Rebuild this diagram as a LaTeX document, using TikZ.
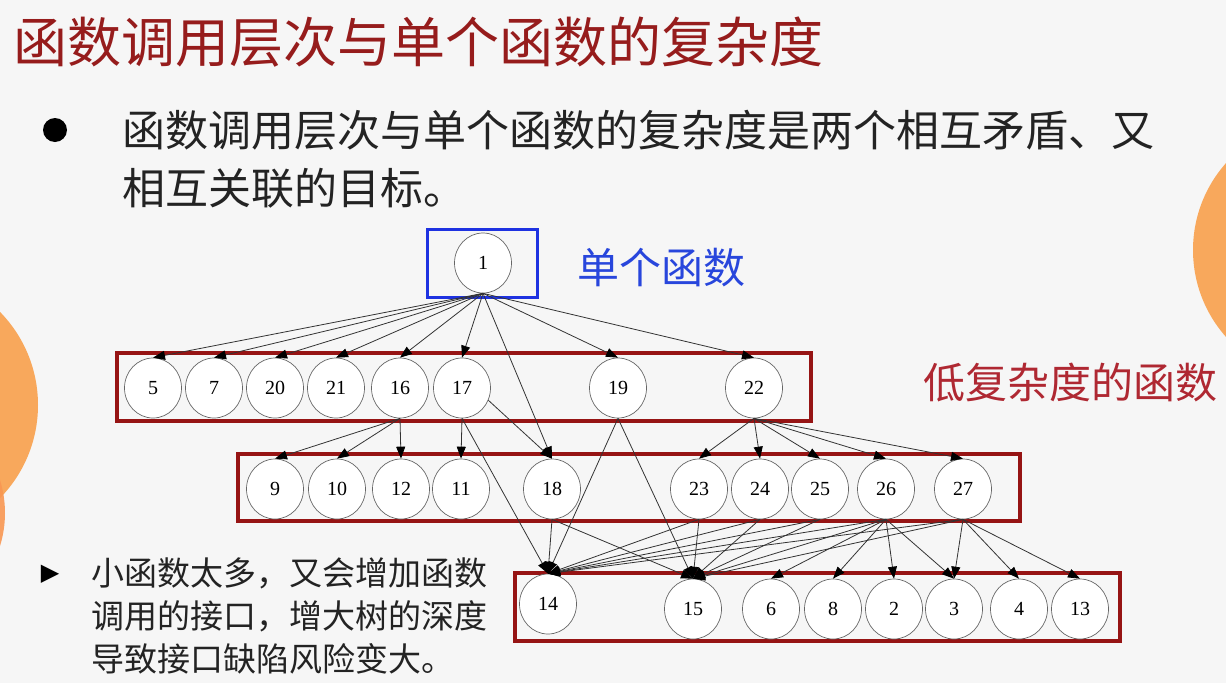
\documentclass[tikz,border=0pt]{standalone}
\usepackage{fontspec}
\setmainfont{Liberation Serif}
\newfontfamily\cjk{Noto Sans CJK SC}
\newfontfamily\symb{DejaVu Sans}
\usepackage{xcolor}
\usetikzlibrary{shapes, arrows.meta, positioning}

\definecolor{bgGray}{RGB}{246,246,246}
\definecolor{titleRed}{RGB}{150,28,28}
\definecolor{boxRed}{RGB}{150,20,20}
\definecolor{labelRed}{RGB}{175,40,50}
\definecolor{boxBlue}{RGB}{30,50,225}
\definecolor{labelBlue}{RGB}{40,70,220}
\definecolor{blobOrange}{RGB}{248,168,92}
\definecolor{textGray}{RGB}{35,35,35}

\tikzset{
  fn/.style={ellipse, draw=black!60, fill=white, line width=0.7pt,
    minimum width=57pt, minimum height=60pt, inner sep=0pt,
    font=\fontsize{20}{22}\selectfont},
  call/.style={draw=black!80, line width=0.8pt,
    -{Triangle[length=12pt,width=9pt,color=black]}},
  calls/.style={every edge/.style={call}},
  group/.style={draw=boxRed, line width=3.5pt},
}

\begin{document}
\begin{tikzpicture}[x=1pt, y=-1pt]
  % slide background, fixes the page size
  \fill[bgGray] (0,0) rectangle (1226,683);
  \useasboundingbox (0,0) rectangle (1226,683);

  % orange blobs cut by the page edges
  \begin{scope}
    \clip (0,0) rectangle (1226,683);
    \fill[blobOrange] (-95,405) circle (133);
    \fill[blobOrange!90!red, opacity=0.9] (-106,513) circle (111);
    \fill[blobOrange] (1324,250) circle (131);
  \end{scope}

  % title and bullet text
  \node[anchor=west, text=titleRed, font=\cjk\fontsize{54}{60}\selectfont] (title) at (10,42) {函数调用层次与单个函数的复杂度};
  \fill[black] (55,130) circle (12);
  \node[anchor=west, text=textGray, font=\cjk\fontsize{43}{48}\selectfont] (line1) at (119,130) {函数调用层次与单个函数的复杂度是两个相互矛盾、又};
  \node[anchor=west, text=textGray, font=\cjk\fontsize{43}{48}\selectfont] (line2) at (119,188) {相互关联的目标。};

  % note at the lower left
  \node[font=\symb\fontsize{24}{24}\selectfont] (tri) at (50,574) {▶};
  \node[anchor=west, text=textGray, font=\cjk\fontsize{33}{38}\selectfont] (note1) at (88,573) {小函数太多，又会增加函数};
  \node[anchor=west, text=textGray, font=\cjk\fontsize{33}{38}\selectfont] (note2) at (88,616) {调用的接口，增大树的深度};
  \node[anchor=west, text=textGray, font=\cjk\fontsize{33}{38}\selectfont] (note3) at (88,659) {导致接口缺陷风险变大。};

  % frames round the levels
  \draw[boxBlue, line width=3pt] (427,229) rectangle (537,297);
  \draw[group] (117,353) rectangle (811,421);
  \draw[group] (238,454) rectangle (1020,521);
  \draw[group] (515,573) rectangle (1120,641);

  % frame labels
  \node[anchor=west, text=labelBlue, font=\cjk\fontsize{42}{46}\selectfont] (single) at (574,268) {单个函数};
  \node[anchor=west, text=labelRed, font=\cjk\fontsize{42}{46}\selectfont] (low) at (920,383) {低复杂度的函数};

  % level 0
  \node[fn] (n1) at (483,263) {1};

  % level 1
  \node[fn] (n5)  at (153,388) {5};
  \node[fn] (n7)  at (214,388) {7};
  \node[fn] (n20) at (275,388) {20};
  \node[fn] (n21) at (336,388) {21};
  \node[fn] (n16) at (400,388) {16};
  \node[fn] (n17) at (462,388) {17};
  \node[fn] (n19) at (618,388) {19};
  \node[fn] (n22) at (754,388) {22};

  % level 2
  \node[fn] (n9)  at (275,489) {9};
  \node[fn] (n10) at (337,489) {10};
  \node[fn] (n12) at (401,489) {12};
  \node[fn] (n11) at (461,489) {11};
  \node[fn] (n18) at (552,489) {18};
  \node[fn] (n23) at (699,489) {23};
  \node[fn] (n24) at (760,489) {24};
  \node[fn] (n25) at (820,489) {25};
  \node[fn] (n26) at (886,489) {26};
  \node[fn] (n27) at (963,489) {27};

  % level 3
  \node[fn] (n14) at (548,604) {14};
  \node[fn] (n15) at (693,609) {15};
  \node[fn] (n6)  at (771,609) {6};
  \node[fn] (n8)  at (833,609) {8};
  \node[fn] (n2)  at (894,609) {2};
  \node[fn] (n3)  at (954,609) {3};
  \node[fn] (n4)  at (1019,609) {4};
  \node[fn] (n13) at (1080,609) {13};

  % calls, tail at the bottom of the caller, head at the top of the callee
  \path[calls] (n1.south) edge (n5.north) edge (n7.north) edge (n20.north)
                          edge (n21.north) edge (n16.north) edge (n17.north)
                          edge (n19.north) edge (n22.north) edge (n18.north);
  \path[calls] (n16.south) edge (n9.north) edge (n10.north) edge (n12.north);
  \path[calls] (n17.south) edge (n11.north) edge (n14.north);
  \path[calls] (n17.-25) edge (n18.north);
  \path[calls] (n19.south) edge (n14.north) edge (n15.north);
  \path[calls] (n22.south) edge (n23.north) edge (n24.north) edge (n25.north)
                           edge (n26.north) edge (n27.north);
  \path[calls] (n18.south) edge (n14.north) edge (n15.north);
  \path[calls] (n23.south) edge (n14.north) edge (n15.north);
  \path[calls] (n24.south) edge (n14.north) edge (n15.north);
  \path[calls] (n25.south) edge (n14.north) edge (n15.north);
  \path[calls] (n26.south) edge (n14.north) edge (n15.north) edge (n6.north)
                           edge (n8.north) edge (n2.north) edge (n3.north);
  \path[calls] (n27.south) edge (n14.north) edge (n15.north) edge (n3.north)
                           edge (n4.north) edge (n13.north);
\end{tikzpicture}
\end{document}
